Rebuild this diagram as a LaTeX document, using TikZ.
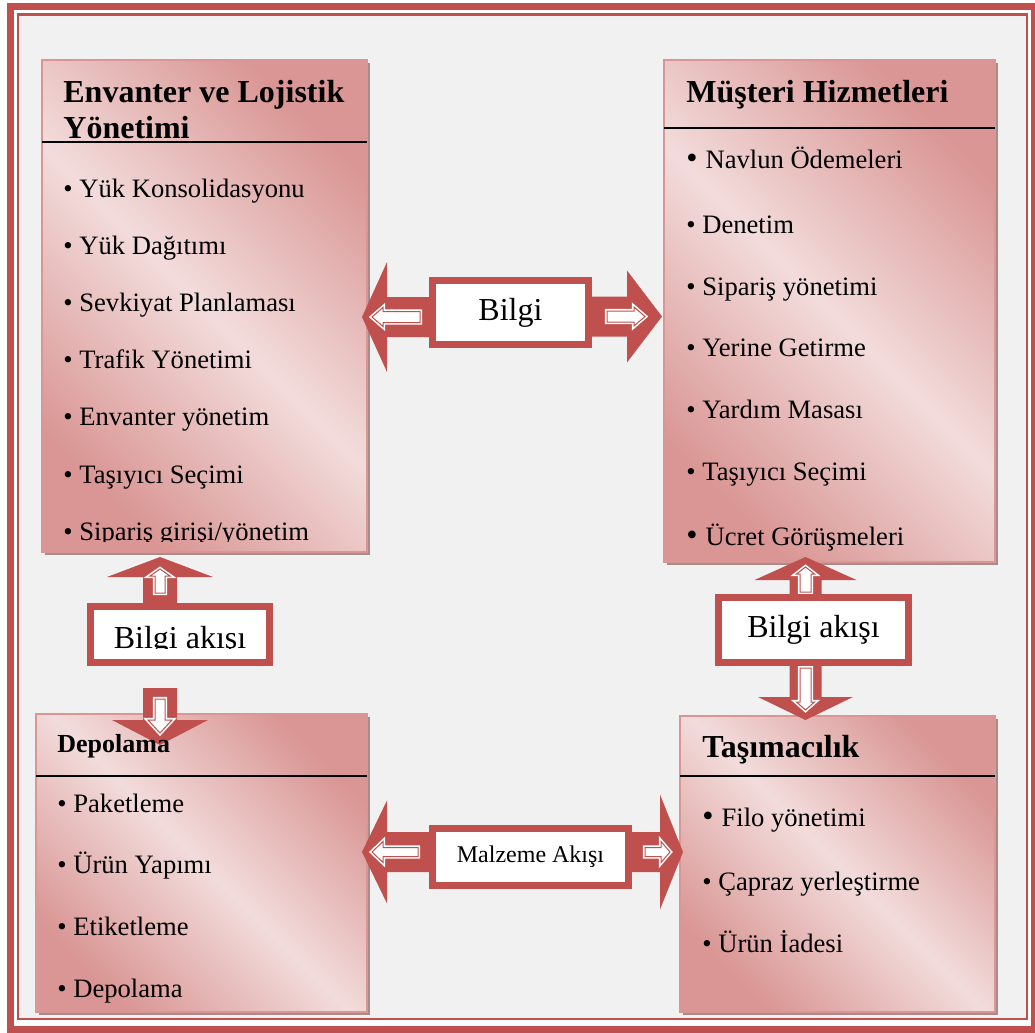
\documentclass[tikz,border=0pt]{standalone}
\usepackage{fontspec}
\setmainfont{Liberation Serif}
\usetikzlibrary{calc,shadows}
\definecolor{arrowred}{HTML}{C0504D}
\definecolor{roseL}{HTML}{F2DCDB}
\definecolor{roseD}{HTML}{D99694}
\definecolor{bggray}{HTML}{F1F1F1}
\definecolor{shadowc}{HTML}{A88C8C}
% block arrow: [style]{base}{angle}{from}{to}{shaft half}{head half}{head length}
\newcommand{\blockarrow}[8][fill=arrowred]{%
  \path[#1,shift={#2},rotate=#3] (#4,-#6) -- ({#5-#8},-#6) -- ({#5-#8},-#7) -- (#5,0)
    -- ({#5-#8},#7) -- ({#5-#8},#6) -- (#4,#6) -- cycle;}
\newcommand{\bigbul}{{\fontsize{16}{16}\selectfont\textbullet}\hspace{0.3em}}

\begin{document}
\begin{tikzpicture}[x=0.5pt,y=-0.5pt,
  panel/.style={draw=roseD,line width=0.8pt,anchor=north west,inner sep=0pt,outer sep=0pt,
    top color=roseD,bottom color=roseD,middle color=roseL,shading angle=-45,
    drop shadow={shadow xshift=1.5pt,shadow yshift=-1.5pt,fill=shadowc,opacity=1}},
  lbl/.style={draw=arrowred,line width=3.5pt,fill=white,inner sep=0pt,outer sep=1.75pt,
    font=\fontsize{16}{18}\selectfont},
  hollow/.style={fill=white,draw=white,double=arrowred,double distance=0.5pt,line width=0.8pt},
  rule/.style={black,line width=0.6pt},
  ttl/.style={font=\bfseries\fontsize{16}{18}\selectfont,anchor=base west,inner sep=0pt,align=left},
  item/.style={font=\fontsize{13.3}{16}\selectfont,anchor=base west,inner sep=0pt}]
  \useasboundingbox (0,0) rectangle (1035,1033);
  % page frame
  \fill[white] (0,0) rectangle (1035,1033);
  \fill[bggray] (18,14.5) rectangle (1027,1019);
  \draw[arrowred,line width=3.5pt] (10.5,6.5) rectangle (1034.5,1029);
  \draw[arrowred,line width=1.2pt] (18,14.5) rectangle (1027,1019);

  % panels
  \node[panel,minimum width=162.5pt,minimum height=246pt] (env) at (42,60) {};
  \node[panel,minimum width=165.5pt,minimum height=251pt] (mus) at (664,60) {};
  \node[panel,minimum width=165.5pt,minimum height=149pt] (dep) at (36,714) {};
  \node[panel,minimum width=157.5pt,minimum height=148pt] (tas) at (680,716) {};
  \draw[rule] ([yshift=-41pt]env.north west) -- ([yshift=-41pt]env.north east);
  \draw[rule] ([yshift=-34pt]mus.north west) -- ([yshift=-34pt]mus.north east);
  \draw[rule] ([yshift=-31pt]dep.north west) -- ([yshift=-31pt]dep.north east);
  \draw[rule] ([yshift=-30pt]tas.north west) -- ([yshift=-30pt]tas.north east);

  % flow labels
  \node[lbl,minimum width=78pt,minimum height=32pt] (bilgi) at (510.5,312.5) {Bilgi};
  \node[lbl,minimum width=98pt,minimum height=28.5pt,font=\fontsize{12}{14}\selectfont] (malz) at (530.5,857) {Malzeme Akışı};
  \node[lbl,minimum width=95pt,minimum height=32.5pt] (akisR) at (813.5,630) {Bilgi akışı};
  \node[lbl,minimum width=89.5pt,minimum height=28pt] (akisL) at (180,634.5) {};
  \begin{scope}
    \clip (87,603) rectangle (273,648.5);
    \node[font=\fontsize{16}{18}\selectfont,anchor=base,inner sep=0pt] (akisLtxt) at (180,648.5) {Bilgi akışı};
  \end{scope}

  % arrows
  \blockarrow{($(bilgi.west)+(0,4.5)$)}{180}{0}{67}{20}{55}{25}
  \blockarrow[hollow]{($(bilgi.west)+(0,4.5)$)}{180}{9}{57}{5.5}{9.5}{11}
  \blockarrow{($(bilgi.east)+(0,4)$)}{0}{0}{70}{20}{46}{35}
  \blockarrow[hollow]{($(bilgi.east)+(0,4)$)}{0}{15}{53}{5.5}{9.5}{11}
  \blockarrow{($(malz.west)+(0,-5)$)}{180}{0}{67}{20}{51.5}{25}
  \blockarrow[hollow]{($(malz.west)+(0,-5)$)}{180}{11}{57}{4.5}{10.5}{11}
  \blockarrow{($(malz.east)+(0,-5)$)}{0}{0}{51}{20}{57.5}{23}
  \blockarrow[hollow]{($(malz.east)+(0,-5)$)}{0}{13}{38}{4.5}{10.5}{9}
  \blockarrow{($(akisL.north)+(-20,0)$)}{90}{0}{46}{17}{53}{20}
  \blockarrow[hollow]{($(akisL.north)+(-20,0)$)}{90}{10}{34}{5}{10}{7}
  \blockarrow{($(akisL.south)+(-20,22)$)}{-90}{0}{57}{17}{48}{25}
  \blockarrow[hollow]{($(akisL.south)+(-20,22)$)}{-90}{11}{45}{5}{12}{13}
  \blockarrow{($(akisR.north)+(-8,0)$)}{90}{0}{37}{16}{51}{23}
  \blockarrow[hollow]{($(akisR.north)+(-8,0)$)}{90}{2}{27}{5.5}{9}{7}
  \blockarrow{($(akisR.south)+(-8,0)$)}{-90}{0}{54}{16}{47.5}{23}
  \blockarrow[hollow]{($(akisR.south)+(-8,0)$)}{-90}{2}{44}{5.5}{9}{8}
  % redraw label frames over arrow tails
  \draw[arrowred,line width=3.5pt] ([shift={(1.75pt,-1.75pt)}]akisL.north west) rectangle ([shift={(-1.75pt,1.75pt)}]akisL.south east);
  \draw[arrowred,line width=3.5pt] ([shift={(1.75pt,-1.75pt)}]akisR.north west) rectangle ([shift={(-1.75pt,1.75pt)}]akisR.south east);

  % panel texts
  \node[ttl] (envT) at (63,138) {Envanter ve Lojistik\\Yönetimi};
  \begin{scope}
    \clip (42,60) rectangle (367,541);
    \foreach \txt [count=\i from 0] in {Yük Konsolidasyonu,Yük Dağıtımı,Sevkiyat Planlaması,
      Trafik Yönetimi,Envanter yönetim,Taşıyıcı Seçimi,Sipariş girişi/yönetim}
      \node[item] (envI\i) at (63,{197+57.2*\i}) {\textbullet\ \txt};
  \end{scope}
  \node[ttl] (musT) at (686,102) {Müşteri Hizmetleri};
  \foreach \yy/\txt [count=\i] in {168/\bigbul Navlun Ödemeleri,233/\textbullet\ Denetim,
    295/\textbullet\ Sipariş yönetimi,356/\textbullet\ Yerine Getirme,418/\textbullet\ Yardım Masası,
    480/\textbullet\ Taşıyıcı Seçimi,545/\bigbul Ücret Görüşmeleri}
    \node[item] (musI\i) at (686,\yy) {\txt};
  \node[ttl,font=\bfseries\fontsize{13}{15}\selectfont] (depT) at (57,752) {Depolama};
  \foreach \txt [count=\i from 0] in {Paketleme,Ürün Yapımı,Etiketleme,Depolama}
    \node[item] (depI\i) at (57,{812+61.7*\i}) {\textbullet\ \txt};
  \node[ttl] (tasT) at (702,757) {Taşımacılık};
  \foreach \yy/\txt [count=\i] in {826/\bigbul Filo yönetimi,890/\textbullet\ Çapraz yerleştirme,
    952/\textbullet\ Ürün İadesi}
    \node[item] (tasI\i) at (702,\yy) {\txt};
\end{tikzpicture}
\end{document}
